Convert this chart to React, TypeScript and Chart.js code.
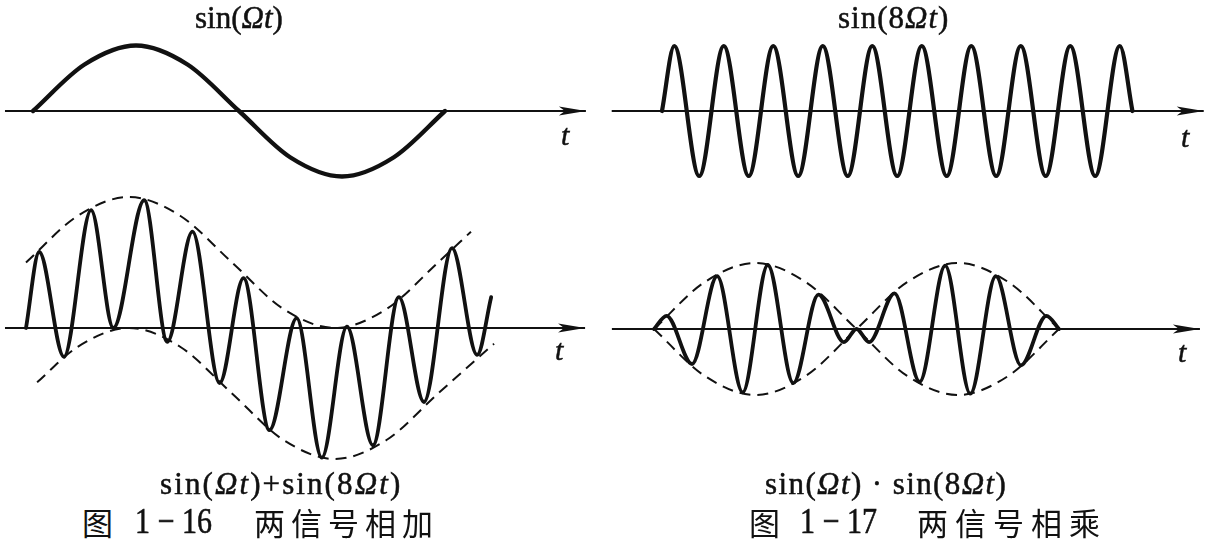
import React, { useEffect, useRef } from "react";
import { Chart, registerables } from "chart.js";

Chart.register(...registerables);

// ---------------- data (t in periods of Ω, y in unit amplitudes) ----------------
// top-left: sin(Ωt)
const tlT = [0, 0.125, 0.25, 0.375, 0.5, 0.625, 0.75, 0.875, 1.0];
const tlY = [0, 0.71, 1, 0.71, 0, -0.71, -1, -0.71, 0];
const tlAxis = [-0.068, 1.342];

// top-right: sin(8Ωt)
const trT = [0, 0.031, 0.094, 0.156, 0.219, 0.281, 0.344, 0.406, 0.469, 0.531, 0.594, 0.656, 0.719, 0.781, 0.844, 0.906, 0.969, 1.031, 1.094, 1.156, 1.188];
const trY = [0, 1, -1, 1, -1, 1, -1, 1, -1, 1, -1, 1, -1, 1, -1, 1, -1, 1, -1, 1, 0];
const trAxis = [-0.127, 1.368];

// bottom-left: sin(Ωt) + sin(8Ωt) and its envelopes
const blT = [0, 0.032, 0.092, 0.158, 0.212, 0.287, 0.343, 0.404, 0.47, 0.528, 0.591, 0.657, 0.718, 0.779, 0.842, 0.905, 0.966, 1.034, 1.095, 1.129];
const blY = [0, 1.16, -0.44, 1.8, 0.0, 1.95, -0.21, 1.47, -0.84, 0.76, -1.56, 0.15, -1.98, 0.02, -1.79, 0.47, -1.13, 1.22, -0.41, 0.47];
const blUpperT = [0, 0.125, 0.25, 0.375, 0.5, 0.625, 0.75, 0.875, 1.0, 1.08];
const blUpperY = [1.0, 1.71, 2.0, 1.71, 1.0, 0.29, 0.0, 0.29, 1.0, 1.47];
const blLowerT = [0.027, 0.125, 0.25, 0.375, 0.5, 0.625, 0.75, 0.875, 1.0, 1.136];
const blLowerY = [-0.83, -0.29, 0.0, -0.29, -1.0, -1.71, -2.0, -1.71, -1.0, -0.24];
const blAxis = [-0.051, 1.357];

// bottom-right: sin(Ωt) · sin(8Ωt) and its envelopes
const brT = [0, 0.031, 0.094, 0.156, 0.219, 0.281, 0.344, 0.406, 0.469, 0.5, 0.531, 0.594, 0.656, 0.719, 0.781, 0.844, 0.906, 0.969, 1.0];
const brY = [0, 0.2, -0.53, 0.8, -0.96, 0.97, -0.82, 0.52, -0.2, 0, -0.2, 0.54, -0.8, 0.96, -0.98, 0.8, -0.55, 0.2, 0];
const brEnvT = [0, 0.125, 0.25, 0.375, 0.5, 0.625, 0.75, 0.875, 1.0];
const brUpperY = [0, 0.71, 1, 0.71, 0, -0.71, -1, -0.71, 0];
const brLowerY = [0, -0.71, -1, -0.71, 0, 0.71, 1, 0.71, 0];
const brAxis = [-0.104, 1.348];

// ---------------- layout / style ----------------
const INK = "#111";
const SERIF = '"Liberation Serif", "Times New Roman", serif';
const CJK = '"Noto Sans CJK SC", "Noto Sans CJK JP", sans-serif';

type Series = { t: number[]; y: number[]; width: number; dashed?: boolean };
type Panel = {
  left: number; top: number; width: number; height: number;
  originX: number; originY: number; pxPerT: number; pxPerY: number;
  axis: number[]; series: Series[];
};

const panels: Panel[] = [
  {
    left: 0, top: 30, width: 610, height: 170, originX: 33, originY: 111, pxPerT: 412, pxPerY: 65.5,
    axis: tlAxis, series: [{ t: tlT, y: tlY, width: 4.4 }],
  },
  {
    left: 600, top: 30, width: 620, height: 170, originX: 662, originY: 111, pxPerT: 396, pxPerY: 65,
    axis: trAxis, series: [{ t: trT, y: trY, width: 4.2 }],
  },
  {
    left: 0, top: 180, width: 610, height: 300, originX: 26, originY: 328, pxPerT: 412, pxPerY: 65.5,
    axis: blAxis,
    series: [
      { t: blUpperT, y: blUpperY, width: 2, dashed: true },
      { t: blLowerT, y: blLowerY, width: 2, dashed: true },
      { t: blT, y: blY, width: 3.8 },
    ],
  },
  {
    left: 600, top: 180, width: 620, height: 300, originX: 654, originY: 329, pxPerT: 405, pxPerY: 66,
    axis: brAxis,
    series: [
      { t: brEnvT, y: brUpperY, width: 2, dashed: true },
      { t: brEnvT, y: brLowerY, width: 2, dashed: true },
      { t: brT, y: brY, width: 3.8 },
    ],
  },
];

const arrowPlugin = {
  id: "axisArrow",
  afterDatasetsDraw(chart: any) {
    const meta = chart.getDatasetMeta(0);
    const pts = meta.data;
    if (!pts || pts.length < 2) return;
    const tip = pts[pts.length - 1];
    const ctx = chart.ctx;
    ctx.save();
    ctx.fillStyle = INK;
    ctx.beginPath();
    ctx.moveTo(tip.x, tip.y);
    ctx.lineTo(tip.x - 27, tip.y - 4.5);
    ctx.lineTo(tip.x - 21, tip.y);
    ctx.lineTo(tip.x - 27, tip.y + 4.5);
    ctx.closePath();
    ctx.fill();
    ctx.restore();
  },
};

function PanelChart({ p }: { p: Panel }) {
  const ref = useRef<HTMLCanvasElement>(null);
  useEffect(() => {
    const canvas = ref.current;
    if (!canvas) return;
    const datasets: any[] = [
      {
        data: [{ x: p.axis[0], y: 0 }, { x: p.axis[1], y: 0 }],
        borderColor: INK,
        borderWidth: 2,
        pointRadius: 0,
        tension: 0,
        clip: false,
        fill: false,
      },
      ...p.series.map((s) => ({
        data: s.t.map((t, i) => ({ x: t, y: s.y[i] })),
        borderColor: INK,
        borderWidth: s.width,
        borderDash: s.dashed ? [11, 7] : [],
        borderCapStyle: s.dashed ? "butt" : "round",
        borderJoinStyle: "round",
        cubicInterpolationMode: "monotone",
        pointRadius: 0,
        clip: false,
        fill: false,
      })),
    ];
    const chart = new Chart(canvas, {
      type: "line",
      data: { datasets },
      options: {
        animation: false,
        responsive: false,
        devicePixelRatio: 1,
        events: [],
        layout: { padding: 0 },
        plugins: { legend: { display: false }, tooltip: { enabled: false }, title: { display: false } },
        scales: {
          x: {
            type: "linear",
            display: false,
            min: (p.left - p.originX) / p.pxPerT,
            max: (p.left + p.width - p.originX) / p.pxPerT,
          },
          y: {
            type: "linear",
            display: false,
            max: (p.originY - p.top) / p.pxPerY,
            min: (p.originY - p.top - p.height) / p.pxPerY,
          },
        },
      } as any,
      plugins: [arrowPlugin as any],
    });
    return () => chart.destroy();
  }, [p]);
  return (
    <canvas
      ref={ref}
      width={p.width}
      height={p.height}
      style={{ position: "absolute", left: p.left, top: p.top, width: p.width, height: p.height }}
    />
  );
}

const txt = (left: number, top: number, size: number, extra: React.CSSProperties = {}): React.CSSProperties => ({
  position: "absolute",
  left,
  top,
  fontFamily: SERIF,
  fontSize: size,
  lineHeight: 1,
  whiteSpace: "nowrap",
  color: INK,
  WebkitTextStroke: "0.5px #111",
  ...extra,
});

const digits: React.CSSProperties = { transform: "scaleY(1.2)", transformOrigin: "left bottom" };

export default function App() {
  return (
    <div style={{ position: "absolute", left: 0, top: 0, width: 1220, height: 550, background: "#fff", overflow: "hidden" }}>
      {panels.map((p, i) => (
        <PanelChart key={i} p={p} />
      ))}

      {/* panel titles */}
      <div style={txt(195, 2, 31)}>sin(<i>Ωt</i>)</div>
      <div style={txt(838, 2, 31, { letterSpacing: 1 })}>sin(8<i>Ωt</i>)</div>

      {/* axis labels */}
      <div style={txt(561, 120, 30, { fontStyle: "italic" })}>t</div>
      <div style={txt(1181, 122, 30, { fontStyle: "italic" })}>t</div>
      <div style={txt(555, 335, 30, { fontStyle: "italic" })}>t</div>
      <div style={txt(1178, 337, 30, { fontStyle: "italic" })}>t</div>

      {/* formula captions */}
      <div style={txt(160, 468, 31, { letterSpacing: 2.1 })}>
        sin(<i>Ωt</i>)+sin(8<i>Ωt</i>)
      </div>
      <div style={txt(765, 468, 31, { letterSpacing: 1.4 })}>
        sin(<i>Ωt</i>) · sin(8<i>Ωt</i>)
      </div>

      {/* figure captions */}
      <div style={txt(82, 506, 31, { fontFamily: CJK, WebkitTextStroke: "0px" })}>图</div>
      <div style={txt(135, 509, 30, digits)}>1 − 16</div>
      <div style={txt(254, 506, 31, { fontFamily: CJK, letterSpacing: 6, WebkitTextStroke: "0px" })}>两信号相加</div>

      <div style={txt(749, 506, 31, { fontFamily: CJK, WebkitTextStroke: "0px" })}>图</div>
      <div style={txt(800, 509, 30, digits)}>1 − 17</div>
      <div style={txt(917, 506, 31, { fontFamily: CJK, letterSpacing: 7, WebkitTextStroke: "0px" })}>两信号相乘</div>
    </div>
  );
}
